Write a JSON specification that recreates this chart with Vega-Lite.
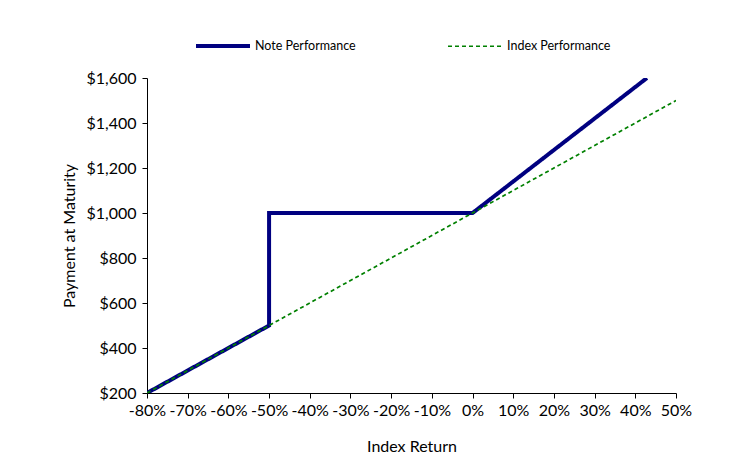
{
  "$schema": "https://vega.github.io/schema/vega-lite/v6.json",
  "width": 529,
  "height": 315,
  "autosize": {"type": "none"},
  "padding": {"left": 147, "top": 78, "right": 56, "bottom": 75},
  "background": "white",
  "config": {
    "view": {"stroke": null},
    "font": "Lato",
    "axis": {"grid": false, "domainColor": "black", "tickColor": "black", "labelColor": "black", "titleColor": "black", "labelFont": "Lato", "titleFont": "Lato", "labelFontSize": 16, "titleFontSize": 16, "titleFontWeight": "normal", "tickSize": 5, "domainWidth": 1, "tickWidth": 1}
  },
  "datasets": {
    "note": [
      {"series": "Note Performance", "ret": -80, "pay": 200, "ord": 1},
      {"series": "Note Performance", "ret": -50, "pay": 500, "ord": 2},
      {"series": "Note Performance", "ret": -50, "pay": 1000, "ord": 3},
      {"series": "Note Performance", "ret": 0, "pay": 1000, "ord": 4},
      {"series": "Note Performance", "ret": 42.857, "pay": 1600, "ord": 5}
    ],
    "index": [
      {"series": "Index Performance", "ret": -80, "pay": 200, "ord": 1},
      {"series": "Index Performance", "ret": 50, "pay": 1500, "ord": 2}
    ]
  },
  "encoding": {
    "x": {"field": "ret", "type": "quantitative", "scale": {"domain": [-80, 50], "nice": false, "zero": false},
      "axis": {"title": "Index Return", "values": [-80,-70,-60,-50,-40,-30,-20,-10,0,10,20,30,40,50], "labelExpr": "datum.value + '%'", "labelPadding": 4, "titlePadding": 20, "labelFlush": false, "labelOverlap": false}},
    "y": {"field": "pay", "type": "quantitative", "scale": {"domain": [200, 1600], "nice": false, "zero": false},
      "axis": {"title": "Payment at Maturity", "values": [200,400,600,800,1000,1200,1400,1600], "format": "$,.0f", "labelPadding": 6, "titlePadding": 8, "labelFlush": false}},
    "order": {"field": "ord", "type": "quantitative"},
    "color": {"field": "series", "type": "nominal", "scale": {"domain": ["Note Performance", "Index Performance"], "range": ["#000080", "#008000"]},
      "legend": {"title": null, "orient": "none", "legendX": 47, "legendY": -61, "direction": "horizontal", "columns": 2, "columnPadding": 88, "symbolType": "stroke", "symbolSize": 2916, "labelFontSize": 12.5, "labelFont": "Lato", "labelColor": "black", "labelOffset": 3}},
    "strokeDash": {"field": "series", "type": "nominal", "scale": {"domain": ["Note Performance", "Index Performance"], "range": [[1, 0], [4, 3]]}},
    "strokeWidth": {"field": "series", "type": "nominal", "scale": {"domain": ["Note Performance", "Index Performance"], "range": [4, 1.7]}}
  },
  "layer": [
    {"data": {"name": "note"}, "mark": {"type": "line", "clip": true}},
    {"data": {"name": "index"}, "mark": {"type": "line", "clip": true}}
  ]
}
